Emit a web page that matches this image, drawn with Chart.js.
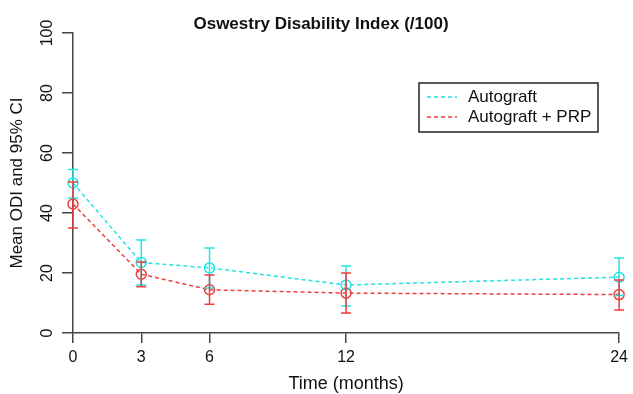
<!DOCTYPE html>
<html>
<head>
<meta charset="utf-8">
<script src="https://cdn.jsdelivr.net/npm/chart.js@4.4.1/dist/chart.umd.min.js"></script>
<style>
  html, body { margin: 0; padding: 0; background: #fff; }
  #wrap { width: 633px; height: 394px; }
</style>
</head>
<body>
<div id="wrap"><canvas id="odi"></canvas></div>
<script>
const months = [0, 3, 6, 12, 24];
const yTicks = [0, 20, 40, 60, 80, 100];

const autoMean = [50, 23.5, 21.7, 16, 18.6];
const autoLow = [45, 16, 15, 9, 12.5];
const autoHigh = [54.5, 31, 28.3, 22.3, 25];

const prpMean = [43, 19.6, 14.4, 13.3, 12.8];
const prpLow = [35, 15.4, 9.6, 6.7, 7.7];
const prpHigh = [50.3, 23.7, 19.3, 20, 17.7];

const CYAN = "#22e4e4";
const RED = "#ee3d3d";
const AXIS = "#444";
const FONT = "'Liberation Sans', Arial, sans-serif";

const toPoints = (vals) => months.map((m, i) => ({ x: m, y: vals[i] }));

// error bars, drawn from the arrays through the chart's scales
const errorBars = {
  id: "errorBars",
  afterDatasetsDraw(chart) {
    const { ctx, scales } = chart;
    const sets = [
      { low: autoLow, high: autoHigh, color: CYAN },
      { low: prpLow, high: prpHigh, color: RED },
    ];
    ctx.save();
    ctx.lineWidth = 1.5;
    sets.forEach((s) => {
      ctx.strokeStyle = s.color;
      months.forEach((m, i) => {
        const x = scales.x.getPixelForValue(m);
        const y1 = scales.y.getPixelForValue(s.low[i]);
        const y2 = scales.y.getPixelForValue(s.high[i]);
        ctx.beginPath();
        ctx.moveTo(x, y1);
        ctx.lineTo(x, y2);
        ctx.moveTo(x - 5, y1);
        ctx.lineTo(x + 5, y1);
        ctx.moveTo(x - 5, y2);
        ctx.lineTo(x + 5, y2);
        ctx.stroke();
      });
    });
    ctx.restore();
  },
};

// R-style extras: title, rotated y labels, boxed legend
const decorations = {
  id: "decorations",
  afterDraw(chart) {
    const { ctx, scales } = chart;
    ctx.save();
    ctx.fillStyle = "#111";
    ctx.textAlign = "center";
    ctx.textBaseline = "alphabetic";
    ctx.font = "bold 17px " + FONT;
    ctx.fillText("Oswestry Disability Index (/100)", 321, 29);

    ctx.textBaseline = "middle";
    ctx.font = "16px " + FONT;
    yTicks.forEach((v) => {
      const y = scales.y.getPixelForValue(v);
      ctx.save();
      ctx.translate(48, y);
      ctx.rotate(-Math.PI / 2);
      ctx.fillText(String(v), 0, 0);
      ctx.restore();
    });

    // legend
    const bx = 419, by = 83, bw = 179, bh = 49;
    ctx.strokeStyle = "#222";
    ctx.lineWidth = 1.5;
    ctx.strokeRect(bx, by, bw, bh);
    ctx.textAlign = "left";
    ctx.font = "17px " + FONT;
    chart.data.datasets.forEach((ds, i) => {
      const ly = by + 14 + i * 20;
      ctx.strokeStyle = ds.borderColor;
      ctx.setLineDash([4, 3]);
      ctx.beginPath();
      ctx.moveTo(bx + 8, ly);
      ctx.lineTo(bx + 38, ly);
      ctx.stroke();
      ctx.setLineDash([]);
      ctx.fillStyle = "#111";
      ctx.fillText(ds.label, bx + 49, ly);
    });
    ctx.restore();
  },
};

const lineSet = (label, vals, color) => ({
  label,
  data: toPoints(vals),
  clip: false,
  borderColor: color,
  borderWidth: 1.5,
  borderDash: [4, 3],
  backgroundColor: "transparent",
  pointRadius: 5,
  pointHoverRadius: 5,
  pointBorderWidth: 1.5,
  pointBorderColor: color,
  pointBackgroundColor: "transparent",
  tension: 0,
});

new Chart(document.getElementById("odi"), {
  type: "line",
  data: {
    datasets: [
      lineSet("Autograft", autoMean, CYAN),
      lineSet("Autograft + PRP", prpMean, RED),
    ],
  },
  options: {
    responsive: true,
    maintainAspectRatio: false,
    animation: false,
    layout: { padding: { top: 33, right: 10, left: 0, bottom: 0 } },
    plugins: {
      legend: { display: false },
      tooltip: { enabled: false },
    },
    scales: {
      x: {
        type: "linear",
        min: 0,
        max: 24,
        afterBuildTicks: (scale) => {
          scale.ticks = months.map((v) => ({ value: v }));
        },
        afterFit: (scale) => {
          scale.height = 61;
        },
        grid: {
          drawOnChartArea: false,
          color: AXIS,
          lineWidth: 1.5,
          tickLength: 10,
        },
        border: { color: AXIS, width: 1.5 },
        ticks: {
          color: "#111",
          font: { family: FONT, size: 16 },
          padding: 5,
          maxRotation: 0,
          autoSkip: false,
        },
        title: {
          display: true,
          text: "Time (months)",
          color: "#111",
          font: { family: FONT, size: 18 },
          padding: { top: 0, bottom: -1 },
        },
      },
      y: {
        type: "linear",
        min: 0,
        max: 100,
        afterBuildTicks: (scale) => {
          scale.ticks = yTicks.map((v) => ({ value: v }));
        },
        afterFit: (scale) => {
          scale.width = 73;
        },
        grid: {
          drawOnChartArea: false,
          color: AXIS,
          lineWidth: 1.5,
          tickLength: 11,
        },
        border: { color: AXIS, width: 1.5 },
        ticks: { display: false },
        title: {
          display: true,
          text: "Mean ODI and 95% CI",
          color: "#111",
          font: { family: FONT, size: 17 },
          padding: { top: 7, bottom: 0 },
        },
      },
    },
  },
  plugins: [errorBars, decorations],
});
</script>
</body>
</html>
